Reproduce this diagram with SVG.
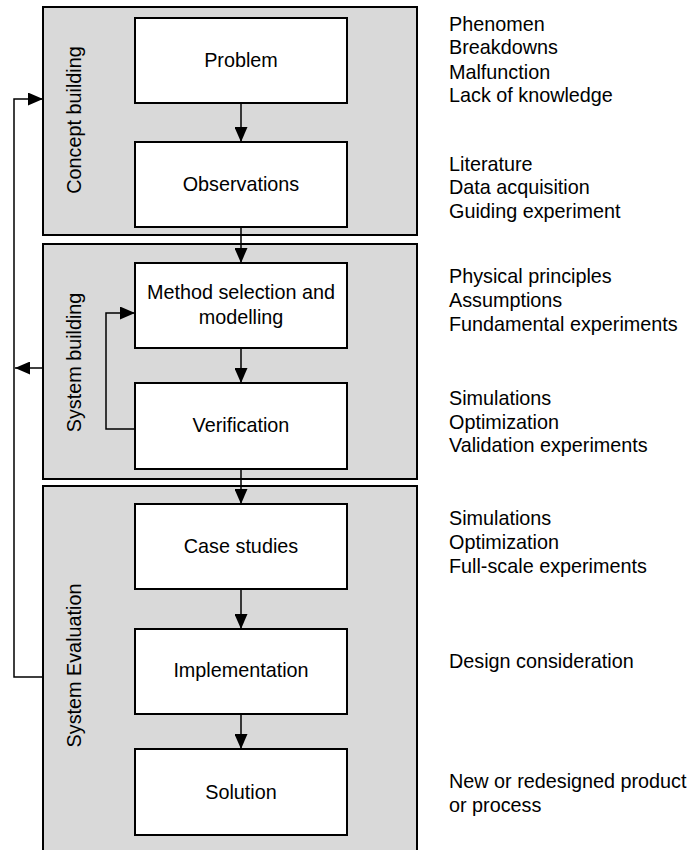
<svg xmlns="http://www.w3.org/2000/svg" width="692" height="850" viewBox="0 0 692 850">
<defs>
<style>
.panel{fill:#d9d9d9;stroke:#000;stroke-width:2}
.box{fill:#fff;stroke:#000;stroke-width:2}
.t{font-family:"Liberation Sans",Arial,sans-serif;font-size:19.8px;fill:#000}
.c{text-anchor:middle}
.ln{fill:none;stroke:#000;stroke-width:1.5}
</style>
<marker id="ah" markerWidth="15" markerHeight="13" viewBox="0 0 15 13" refX="15" refY="6.5" orient="auto" markerUnits="userSpaceOnUse">
<path d="M0,0 L15,6.5 L0,13 Z" fill="#000"/>
</marker>
</defs>
<rect width="692" height="850" fill="#fff"/>
<g id="panel-concept">
<rect class="panel" x="43" y="7" width="374" height="228"/>
<text class="t c" transform="translate(81,120) rotate(-90)">Concept building</text>
</g>
<g id="panel-system">
<rect class="panel" x="43" y="244" width="374" height="235"/>
<text class="t c" transform="translate(81,362.5) rotate(-90)">System building</text>
</g>
<g id="panel-evaluation">
<rect class="panel" x="43" y="486" width="374" height="370"/>
<text class="t c" transform="translate(81,665.5) rotate(-90)">System Evaluation</text>
</g>
<g id="problem"><rect class="box" x="135" y="18" width="212" height="85"/><text class="t c" x="241" y="67">Problem</text></g>
<g id="observations"><rect class="box" x="135" y="142" width="212" height="85"/><text class="t c" x="241" y="191">Observations</text></g>
<g id="method"><rect class="box" x="135" y="263" width="212" height="85"/><text class="t c" x="241" y="298.5">Method selection and</text><text class="t c" x="241" y="323.5">modelling</text></g>
<g id="verification"><rect class="box" x="135" y="383" width="212" height="86"/><text class="t c" x="241" y="432">Verification</text></g>
<g id="case-studies"><rect class="box" x="135" y="504" width="212" height="85"/><text class="t c" x="241" y="552.5">Case studies</text></g>
<g id="implementation"><rect class="box" x="135" y="629" width="212" height="85"/><text class="t c" x="241" y="677">Implementation</text></g>
<g id="solution"><rect class="box" x="135" y="749" width="212" height="86"/><text class="t c" x="241" y="798.5">Solution</text></g>
<g id="connectors">
<line class="ln" x1="241" y1="103" x2="241" y2="142" marker-end="url(#ah)"/>
<line class="ln" x1="241" y1="227" x2="241" y2="263" marker-end="url(#ah)"/>
<line class="ln" x1="241" y1="348" x2="241" y2="383" marker-end="url(#ah)"/>
<line class="ln" x1="241" y1="469" x2="241" y2="504" marker-end="url(#ah)"/>
<line class="ln" x1="241" y1="589" x2="241" y2="629" marker-end="url(#ah)"/>
<line class="ln" x1="241" y1="714" x2="241" y2="749" marker-end="url(#ah)"/>
<polyline class="ln" points="135,429 106,429 106,313 135,313" marker-end="url(#ah)"/>
<polyline class="ln" points="43,677 14,677 14,99 43,99" marker-end="url(#ah)"/>
<line class="ln" x1="43" y1="368" x2="15" y2="368" marker-end="url(#ah)"/>
</g>
<g id="notes" class="t">
<text x="449" y="30.5">Phenomen</text>
<text x="449" y="54">Breakdowns</text>
<text x="449" y="78.5">Malfunction</text>
<text x="449" y="102">Lack of knowledge</text>
<text x="449" y="170.5">Literature</text>
<text x="449" y="194">Data acquisition</text>
<text x="449" y="217.5">Guiding experiment</text>
<text x="449" y="283">Physical principles</text>
<text x="449" y="307">Assumptions</text>
<text x="449" y="331">Fundamental experiments</text>
<text x="449" y="405">Simulations</text>
<text x="449" y="428.5">Optimization</text>
<text x="449" y="452">Validation experiments</text>
<text x="449" y="525">Simulations</text>
<text x="449" y="549">Optimization</text>
<text x="449" y="573">Full-scale experiments</text>
<text x="449" y="668">Design consideration</text>
<text x="449" y="788">New or redesigned product</text>
<text x="449" y="812">or process</text>
</g>
</svg>
